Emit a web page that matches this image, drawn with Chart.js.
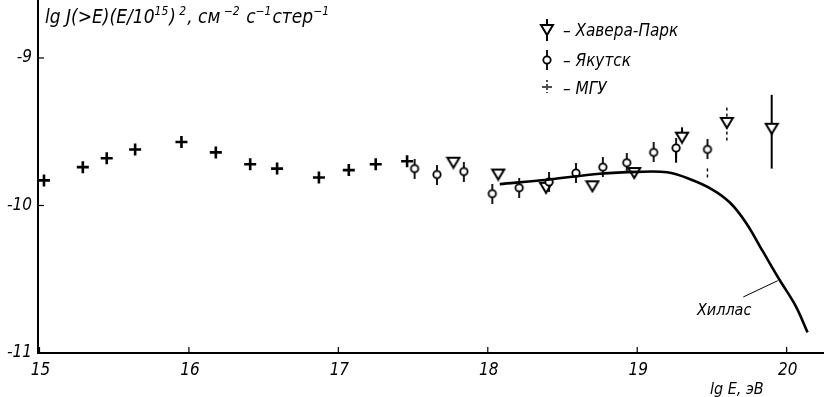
<!DOCTYPE html>
<html lang="ru">
<head>
<meta charset="UTF-8" />
<title>lg J(>E)(E/10^15)^2</title>
<script src="https://cdn.jsdelivr.net/npm/chart.js"></script>
<style>
  html, body { margin: 0; padding: 0; background: #fff; overflow: hidden; }
  #c { display: block; }
</style>
</head>
<body>
<canvas id="c" width="824" height="397"></canvas>
<script>
// --- data ---
const xTicks = [15, 16, 17, 18, 19, 20];
const yTicks = [-11, -10, -9];

// МГУ (crosses)
const mguX = [15.03, 15.29, 15.45, 15.64, 15.95, 16.18, 16.41, 16.59, 16.87, 17.07, 17.25, 17.46];
const mguY = [-9.83, -9.74, -9.68, -9.62, -9.57, -9.64, -9.72, -9.75, -9.81, -9.76, -9.72, -9.70];

// Якутск (circles)
const yakX = [17.51, 17.66, 17.84, 18.03, 18.21, 18.41, 18.59, 18.77, 18.93, 19.11, 19.26, 19.47];
const yakY = [-9.75, -9.79, -9.77, -9.92, -9.88, -9.84, -9.78, -9.74, -9.71, -9.64, -9.61, -9.62];

// Хавера-Парк (down triangles)
const havX = [17.77, 18.07, 18.39, 18.70, 18.98, 19.30, 19.60, 19.90];
const havY = [-9.71, -9.79, -9.88, -9.87, -9.78, -9.54, -9.44, -9.48];

// extra error bars
const errX    = [19.90, 19.60, 19.30, 19.26, 19.47];
const errLo   = [-9.75, -9.56, -9.54, -9.71, -9.81];
const errHi   = [-9.25, -9.32, -9.47, -9.61, -9.74];
const errDash = [false, true, false, false, true];

// Хиллас curve
const hilX = [18.08, 18.40, 18.75, 19.00, 19.20, 19.35, 19.50, 19.62, 19.73, 19.84, 19.95, 20.06, 20.14];
const hilY = [-9.855, -9.825, -9.785, -9.772, -9.775, -9.82, -9.89, -9.98, -10.12, -10.31, -10.50, -10.68, -10.86];

const pts = (xs, ys) => xs.map((x, i) => ({ x: x, y: ys[i] }));

const FONT = '"Liberation Sans Narrow", "DejaVu Sans Condensed", "Liberation Sans", sans-serif';

// marker images
function phiMarker() {
  const c = document.createElement('canvas');
  c.width = 12; c.height = 20;
  const g = c.getContext('2d');
  g.strokeStyle = '#000'; g.lineWidth = 1.8;
  g.beginPath(); g.moveTo(6, 0); g.lineTo(6, 7); g.moveTo(6, 13); g.lineTo(6, 20); g.stroke();
  g.beginPath(); g.arc(6, 10, 3.7, 0, Math.PI * 2); g.fillStyle = '#fff'; g.fill(); g.stroke();
  return c;
}
function triMarker(stem) {
  const c = document.createElement('canvas');
  c.width = 16; c.height = stem ? 22 : 14;
  const g = c.getContext('2d');
  const o = stem ? 4 : 0;
  g.strokeStyle = '#000'; g.lineWidth = 2; g.lineJoin = 'miter';
  g.beginPath(); g.moveTo(2, 2 + o); g.lineTo(14, 2 + o); g.lineTo(8, 12 + o); g.closePath();
  g.fillStyle = '#fff'; g.fill(); g.stroke();
  if (stem) {
    g.beginPath(); g.moveTo(8, 0); g.lineTo(8, 6); g.moveTo(8, 12 + o); g.lineTo(8, 22); g.stroke();
  }
  return c;
}
const phiImg = phiMarker();
const triImg = triMarker(false);
const triStemImg = triMarker(true);

const decor = {
  id: 'decor',
  beforeDatasetsDraw(chart) {
    const g = chart.ctx, sx = chart.scales.x, sy = chart.scales.y;
    g.save();
    g.strokeStyle = '#000';
    // error bars
    errX.forEach((x, i) => {
      g.lineWidth = errDash[i] ? 1.4 : 2;
      g.setLineDash(errDash[i] ? [3, 3] : []);
      g.beginPath();
      g.moveTo(sx.getPixelForValue(x), sy.getPixelForValue(errLo[i]));
      g.lineTo(sx.getPixelForValue(x), sy.getPixelForValue(errHi[i]));
      g.stroke();
    });
    g.restore();
  },
  afterDraw(chart) {
    const g = chart.ctx, sx = chart.scales.x, sy = chart.scales.y, a = chart.chartArea;
    g.save();
    g.strokeStyle = '#000'; g.fillStyle = '#000'; g.lineWidth = 1.2;
    // inward tick marks + tick labels
    g.font = 'italic 17px ' + FONT;
    g.textAlign = 'right'; g.textBaseline = 'middle';
    yTicks.forEach(v => {
      const y = sy.getPixelForValue(v);
      g.beginPath(); g.moveTo(a.left, y); g.lineTo(a.left + 6, y); g.stroke();
      g.fillText(String(v), a.left - 6, y);
    });
    g.textAlign = 'center'; g.textBaseline = 'top';
    xTicks.forEach(v => {
      const x = sx.getPixelForValue(v);
      g.beginPath(); g.moveTo(x, a.bottom); g.lineTo(x, a.bottom - 6); g.stroke();
      g.fillText(String(v), x + 1, a.bottom + 9);
    });
    g.textAlign = 'left';

    // y title with superscripts
    const runs = [
      ['lg ', 0], ['J(>E)(E/10', 0], ['15', 1], [')', 0], [' 2', 1], [', см', 0], [' −2', 1],
      [' с', 0], ['−1', 1], ['стер', 0], ['−1', 1]
    ];
    let x = 45;
    g.textBaseline = 'alphabetic';
    runs.forEach(([t, sup]) => {
      g.font = sup ? 'italic 12px ' + FONT : 'italic 19px ' + FONT;
      g.fillText(t, x, sup ? 15 : 23);
      x += g.measureText(t).width + (sup ? 1 : 0);
    });

    // x title
    g.font = 'italic 16px ' + FONT;
    g.fillText('lg E, эВ', 710, 394);

    // Хиллас label + leader
    g.fillText('Хиллас', 697, 315);
    g.lineWidth = 1;
    g.beginPath();
    g.moveTo(sx.getPixelForValue(19.71), sy.getPixelForValue(-10.62));
    g.lineTo(sx.getPixelForValue(19.94), sy.getPixelForValue(-10.51));
    g.stroke();

    // legend
    const lx = 547;
    g.drawImage(triStemImg, lx - 8, 30 - 11);
    g.drawImage(phiImg, lx - 6, 60 - 10);
    g.lineWidth = 1.4;
    g.beginPath(); g.moveTo(lx - 5, 87); g.lineTo(lx + 5, 87); g.stroke();
    g.setLineDash([2, 2]);
    g.beginPath(); g.moveTo(lx, 80); g.lineTo(lx, 93); g.stroke();
    g.setLineDash([]);
    g.font = 'italic 17px ' + FONT;
    g.fillText('– Хавера-Парк', 563, 36);
    g.fillText('– Якутск', 563, 66);
    g.fillText('– МГУ', 563, 94);
    g.restore();
  }
};

new Chart(document.getElementById('c'), {
  type: 'scatter',
  data: {
    datasets: [
      {
        label: 'Хиллас', type: 'line', data: pts(hilX, hilY),
        borderColor: '#000', borderWidth: 2.6, pointRadius: 0,
        tension: 0.35, fill: false
      },
      {
        label: 'МГУ', data: pts(mguX, mguY),
        pointStyle: 'cross', pointRadius: 6, borderWidth: 2.6, borderColor: '#000'
      },
      {
        label: 'Якутск', data: pts(yakX, yakY), pointStyle: phiImg
      },
      {
        label: 'Хавера-Парк', data: pts(havX, havY), pointStyle: triImg
      }
    ]
  },
  options: {
    responsive: false,
    animation: false,
    devicePixelRatio: 1,
    layout: { padding: 0, autoPadding: false },
    plugins: { legend: { display: false }, tooltip: { enabled: false } },
    scales: {
      x: {
        type: 'linear', min: 15 - 0.01, max: 20.25,
        grid: { display: false, drawTicks: false },
        border: { display: true, color: '#000', width: 2 },
        afterBuildTicks: s => { s.ticks = xTicks.map(v => ({ value: v })); },
        afterFit: s => { s.height = 44; },
        ticks: { display: false }
      },
      y: {
        type: 'linear', min: -11, max: -8.607,
        grid: { display: false, drawTicks: false },
        border: { display: true, color: '#000', width: 2 },
        afterBuildTicks: s => { s.ticks = yTicks.map(v => ({ value: v })); },
        afterFit: s => { s.width = 38; },
        ticks: { display: false }
      }
    }
  },
  plugins: [decor]
});
</script>
</body>
</html>
